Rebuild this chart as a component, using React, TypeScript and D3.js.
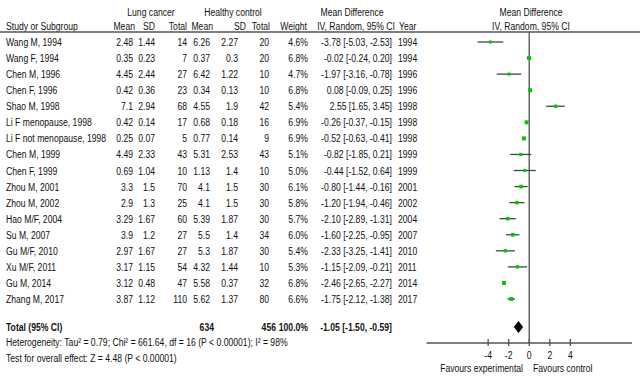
import React from "react";
import * as d3 from "d3";

const studies = ["Wang M, 1994", "Wang F, 1994", "Chen M, 1996", "Chen F, 1996", "Shao M, 1998", "Li F menopause, 1998", "Li F not menopause, 1998", "Chen M, 1999", "Chen F, 1999", "Zhou M, 2001", "Zhou M, 2002", "Hao M/F, 2004", "Su M, 2007", "Gu M/F, 2010", "Xu M/F, 2011", "Gu M, 2014", "Zhang M, 2017"];
const lungMean = ["2.48", "0.35", "4.45", "0.42", "7.1", "0.42", "0.25", "4.49", "0.69", "3.3", "2.9", "3.29", "3.9", "2.97", "3.17", "3.12", "3.87"];
const lungSD = ["1.44", "0.23", "2.44", "0.36", "2.94", "0.14", "0.07", "2.33", "1.04", "1.5", "1.3", "1.67", "1.2", "1.67", "1.15", "0.48", "1.12"];
const lungTotal = [14, 7, 27, 23, 68, 17, 5, 43, 10, 70, 25, 60, 27, 27, 54, 47, 110];
const hcMean = ["6.26", "0.37", "6.42", "0.34", "4.55", "0.68", "0.77", "5.31", "1.13", "4.1", "4.1", "5.39", "5.5", "5.3", "4.32", "5.58", "5.62"];
const hcSD = ["2.27", "0.3", "1.22", "0.13", "1.9", "0.18", "0.14", "2.53", "1.4", "1.5", "1.5", "1.87", "1.4", "1.87", "1.44", "0.37", "1.37"];
const hcTotal = [20, 20, 10, 10, 42, 16, 9, 43, 10, 30, 30, 30, 34, 30, 10, 32, 80];
const weights = [4.6, 6.8, 4.7, 6.8, 5.4, 6.9, 6.9, 5.1, 5.0, 6.1, 5.8, 5.7, 6.0, 5.4, 5.3, 6.8, 6.6];
const md = [-3.78, -0.02, -1.97, 0.08, 2.55, -0.26, -0.52, -0.82, -0.44, -0.8, -1.2, -2.1, -1.6, -2.33, -1.15, -2.46, -1.75];
const lo = [-5.03, -0.24, -3.16, -0.09, 1.65, -0.37, -0.63, -1.85, -1.52, -1.44, -1.94, -2.89, -2.25, -3.25, -2.09, -2.65, -2.12];
const hi = [-2.53, 0.2, -0.78, 0.25, 3.45, -0.15, -0.41, 0.21, 0.64, -0.16, -0.46, -1.31, -0.95, -1.41, -0.21, -2.27, -1.38];
const years = [1994, 1994, 1996, 1996, 1998, 1998, 1998, 1999, 1999, 2001, 2002, 2004, 2007, 2010, 2011, 2014, 2017];
const total = { lung: 634, hc: 456, weight: "100.0%", md: -1.05, lo: -1.5, hi: -0.59 };
const axisTicks = [-4, -2, 0, 2, 4];

const FONT = "'Liberation Sans', Arial, sans-serif";
const SX = 0.75;

const f2 = (v: number) => v.toFixed(2);
const ciText = (m: number, l: number, h: number) => `${f2(m)} [${f2(l)}, ${f2(h)}]`;

type TP = { x: number; y: number; a?: "start" | "middle" | "end"; b?: boolean; children: React.ReactNode };
function T({ x, y, a = "start", b = false, children }: TP) {
  return (
    <text
      transform={`translate(${x},${y}) scale(${SX},1)`}
      textAnchor={a}
      fontFamily={FONT}
      fontSize={11.5}
      fontWeight={b ? "bold" : "normal"}
      fill="#111"
    >
      {children}
    </text>
  );
}

export default function App() {
  const W = 640, H = 383;
  const x = d3.scaleLinear().domain([-10, 10]).range([426.5, 632]);
  const y = d3.scaleLinear().domain([0, 16]).range([42, 299]);
  const sq = d3.scaleLinear().domain([4.6, 6.9]).range([3, 4]);
  const totalY = 327;
  const axisY = 343;
  const zeroX = x(0);

  return (
    <svg width={W} height={H} style={{ position: "absolute", left: 0, top: 0, background: "#fff" }}>
      {/* headers */}
      <T x={151} y={16} a="middle">Lung cancer</T>
      <T x={233} y={16} a="middle">Healthy control</T>
      <T x={352} y={16} a="middle">Mean Difference</T>
      <T x={531} y={16} a="middle">Mean Difference</T>
      <T x={6} y={30}>Study or Subgroup</T>
      <T x={135} y={30} a="end">Mean</T>
      <T x={155} y={30} a="end">SD</T>
      <T x={187} y={30} a="end">Total</T>
      <T x={213} y={30} a="end">Mean</T>
      <T x={246} y={30} a="end">SD</T>
      <T x={270} y={30} a="end">Total</T>
      <T x={307} y={30} a="end">Weight</T>
      <T x={395} y={30} a="end">IV, Random, 95% CI</T>
      <T x={399} y={30}>Year</T>
      <T x={531} y={30} a="middle">IV, Random, 95% CI</T>
      <line x1={0} x2={640} y1={32} y2={32} stroke="#555" strokeWidth={1.5} />

      {/* rows */}
      {studies.map((s, i) => {
        const by = y(i) + 4;
        return (
          <g key={s}>
            <T x={6} y={by}>{s}</T>
            <T x={133} y={by} a="end">{lungMean[i]}</T>
            <T x={155} y={by} a="end">{lungSD[i]}</T>
            <T x={187} y={by} a="end">{lungTotal[i]}</T>
            <T x={210} y={by} a="end">{hcMean[i]}</T>
            <T x={238} y={by} a="end">{hcSD[i]}</T>
            <T x={269} y={by} a="end">{hcTotal[i]}</T>
            <T x={308} y={by} a="end">{weights[i].toFixed(1)}%</T>
            <T x={392} y={by} a="end">{ciText(md[i], lo[i], hi[i])}</T>
            <T x={398} y={by}>{years[i]}</T>
          </g>
        );
      })}

      {/* zero line */}
      <line x1={zeroX} x2={zeroX} y1={32} y2={axisY} stroke="#666" strokeWidth={1.5} />

      {/* CI lines + squares */}
      {studies.map((s, i) => {
        const yy = y(i);
        const sz = sq(weights[i]);
        return (
          <g key={"m" + s}>
            <line x1={x(lo[i])} x2={x(hi[i])} y1={yy} y2={yy} stroke="#444" strokeWidth={1.3} />
            <rect x={x(md[i]) - sz / 2} y={yy - sz / 2} width={sz} height={sz} fill="#00c800" />
          </g>
        );
      })}

      {/* total */}
      <T x={6} y={totalY + 4} b>Total (95% CI)</T>
      <T x={214} y={totalY + 4} a="end" b>{total.lung}</T>
      <T x={276} y={totalY + 4} a="end" b>{total.hc}</T>
      <T x={308} y={totalY + 4} a="end" b>{total.weight}</T>
      <T x={392} y={totalY + 4} a="end" b>{ciText(total.md, total.lo, total.hi)}</T>
      <path
        d={`M${x(total.lo)},${totalY} L${x(total.md)},${totalY - 6} L${x(total.hi)},${totalY} L${x(total.md)},${totalY + 6} Z`}
        fill="#000"
      />
      <T x={6} y={346}>Heterogeneity: Tau² = 0.79; Chi² = 661.64, df = 16 (P &lt; 0.00001); I² = 98%</T>
      <T x={6} y={362}>Test for overall effect: Z = 4.48 (P &lt; 0.00001)</T>

      {/* axis */}
      <line x1={x(-10)} x2={x(10)} y1={axisY} y2={axisY} stroke="#555" strokeWidth={1.5} />
      {axisTicks.map((v) => (
        <g key={v}>
          <line x1={x(v)} x2={x(v)} y1={axisY - 4} y2={axisY + 3} stroke="#555" strokeWidth={1.3} />
          <T x={x(v)} y={axisY + 16} a="middle">{v}</T>
        </g>
      ))}
      <T x={523} y={372} a="end">Favours experimental</T>
      <T x={533} y={372}>Favours control</T>
    </svg>
  );
}
